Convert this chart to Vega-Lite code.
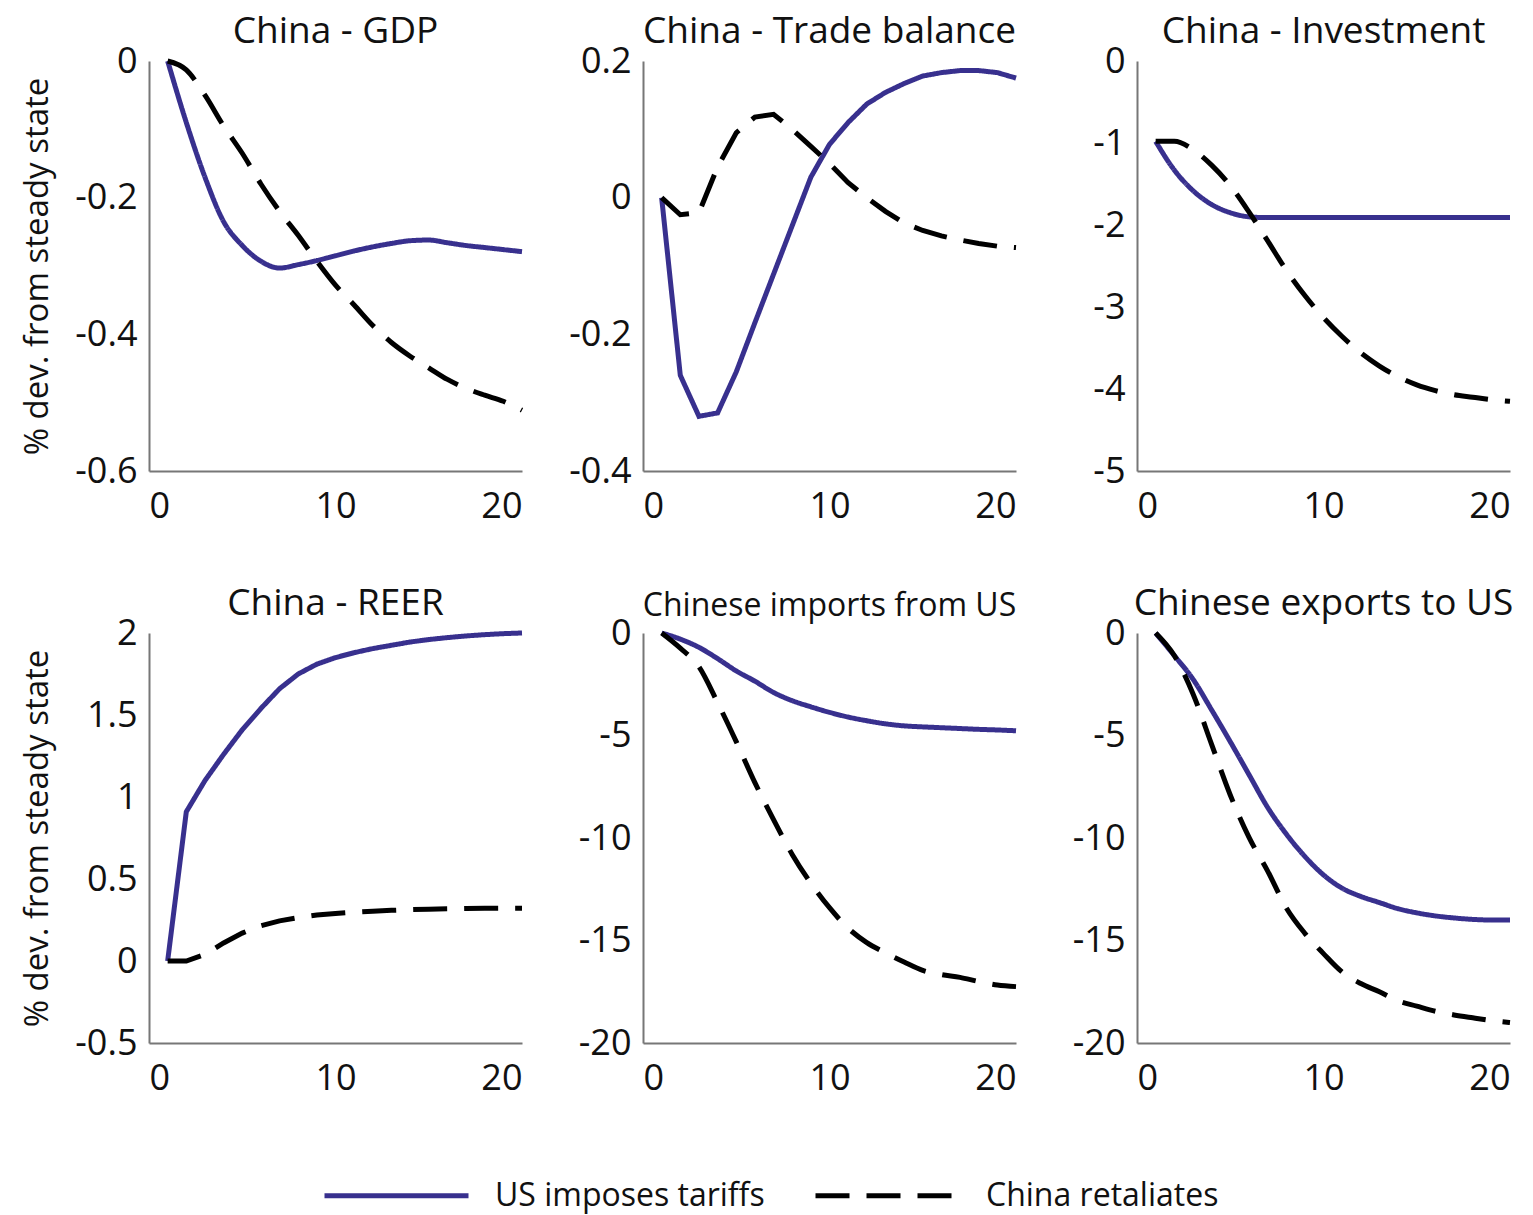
{
  "$schema": "https://vega.github.io/schema/vega-lite/v6.json",
  "autosize": {"type": "pad"},
  "padding": {"left": 21, "top": 13, "right": 0, "bottom": 5},
  "background": "white",
  "bounds": "flush",
  "columns": 3,
  "spacing": {"column": 121, "row": 162},
  "config": {
    "font": "Open Sans",
    "view": {"stroke": null},
    "title": {"font": "Open Sans", "fontSize": 37, "fontWeight": "normal", "color": "#111", "offset": -8},
    "axis": {
      "grid": false, "ticks": false, "tickSize": 0,
      "domainColor": "#777", "domainWidth": 2,
      "labelFont": "Open Sans", "labelFontSize": 36, "labelColor": "#111",
      "titleFont": "Open Sans", "titleFontSize": 33, "titleFontWeight": "normal", "titleColor": "#111"
    },
    "axisX": {"labelPadding": 18},
    "axisY": {"labelPadding": 12, "titlePadding": 20},
    "legend": {"layout": {"bottom": {"anchor": "middle"}}}
  },
  "data": {"values": [
    {"panel":"GDP","t":1,"US imposes tariffs":0,"China retaliates":0},
    {"panel":"GDP","t":2,"US imposes tariffs":-0.09,"China retaliates":-0.013},
    {"panel":"GDP","t":3,"US imposes tariffs":-0.17,"China retaliates":-0.05},
    {"panel":"GDP","t":4,"US imposes tariffs":-0.235,"China retaliates":-0.095},
    {"panel":"GDP","t":5,"US imposes tariffs":-0.27,"China retaliates":-0.135},
    {"panel":"GDP","t":6,"US imposes tariffs":-0.293,"China retaliates":-0.18},
    {"panel":"GDP","t":7,"US imposes tariffs":-0.303,"China retaliates":-0.22},
    {"panel":"GDP","t":8,"US imposes tariffs":-0.298,"China retaliates":-0.255},
    {"panel":"GDP","t":9,"US imposes tariffs":-0.292,"China retaliates":-0.293},
    {"panel":"GDP","t":10,"US imposes tariffs":-0.285,"China retaliates":-0.328},
    {"panel":"GDP","t":11,"US imposes tariffs":-0.278,"China retaliates":-0.357},
    {"panel":"GDP","t":12,"US imposes tariffs":-0.272,"China retaliates":-0.387},
    {"panel":"GDP","t":13,"US imposes tariffs":-0.267,"China retaliates":-0.412},
    {"panel":"GDP","t":14,"US imposes tariffs":-0.263,"China retaliates":-0.432},
    {"panel":"GDP","t":15,"US imposes tariffs":-0.262,"China retaliates":-0.449},
    {"panel":"GDP","t":16,"US imposes tariffs":-0.266,"China retaliates":-0.466},
    {"panel":"GDP","t":17,"US imposes tariffs":-0.27,"China retaliates":-0.479},
    {"panel":"GDP","t":18,"US imposes tariffs":-0.273,"China retaliates":-0.489},
    {"panel":"GDP","t":19,"US imposes tariffs":-0.276,"China retaliates":-0.498},
    {"panel":"GDP","t":20,"US imposes tariffs":-0.279,"China retaliates":-0.511},

    {"panel":"TB","t":1,"US imposes tariffs":0,"China retaliates":0},
    {"panel":"TB","t":2,"US imposes tariffs":-0.26,"China retaliates":-0.025},
    {"panel":"TB","t":3,"US imposes tariffs":-0.32,"China retaliates":-0.022},
    {"panel":"TB","t":4,"US imposes tariffs":-0.315,"China retaliates":0.045},
    {"panel":"TB","t":5,"US imposes tariffs":-0.255,"China retaliates":0.095},
    {"panel":"TB","t":6,"US imposes tariffs":-0.183,"China retaliates":0.118},
    {"panel":"TB","t":7,"US imposes tariffs":-0.112,"China retaliates":0.122},
    {"panel":"TB","t":8,"US imposes tariffs":-0.041,"China retaliates":0.1},
    {"panel":"TB","t":9,"US imposes tariffs":0.03,"China retaliates":0.075},
    {"panel":"TB","t":10,"US imposes tariffs":0.078,"China retaliates":0.05},
    {"panel":"TB","t":11,"US imposes tariffs":0.11,"China retaliates":0.022},
    {"panel":"TB","t":12,"US imposes tariffs":0.137,"China retaliates":0.0},
    {"panel":"TB","t":13,"US imposes tariffs":0.154,"China retaliates":-0.02},
    {"panel":"TB","t":14,"US imposes tariffs":0.167,"China retaliates":-0.037},
    {"panel":"TB","t":15,"US imposes tariffs":0.178,"China retaliates":-0.048},
    {"panel":"TB","t":16,"US imposes tariffs":0.183,"China retaliates":-0.056},
    {"panel":"TB","t":17,"US imposes tariffs":0.186,"China retaliates":-0.062},
    {"panel":"TB","t":18,"US imposes tariffs":0.186,"China retaliates":-0.067},
    {"panel":"TB","t":19,"US imposes tariffs":0.183,"China retaliates":-0.071},
    {"panel":"TB","t":20,"US imposes tariffs":0.175,"China retaliates":-0.073},

    {"panel":"INV","t":1,"US imposes tariffs":-0.98,"China retaliates":-0.98},
    {"panel":"INV","t":2,"US imposes tariffs":-1.33,"China retaliates":-0.98},
    {"panel":"INV","t":3,"US imposes tariffs":-1.58,"China retaliates":-1.08},
    {"panel":"INV","t":4,"US imposes tariffs":-1.75,"China retaliates":-1.27},
    {"panel":"INV","t":5,"US imposes tariffs":-1.85,"China retaliates":-1.52},
    {"panel":"INV","t":6,"US imposes tariffs":-1.9,"China retaliates":-1.84},
    {"panel":"INV","t":7,"US imposes tariffs":-1.91,"China retaliates":-2.19},
    {"panel":"INV","t":8,"US imposes tariffs":-1.91,"China retaliates":-2.55},
    {"panel":"INV","t":9,"US imposes tariffs":-1.91,"China retaliates":-2.86},
    {"panel":"INV","t":10,"US imposes tariffs":-1.91,"China retaliates":-3.13},
    {"panel":"INV","t":11,"US imposes tariffs":-1.91,"China retaliates":-3.36},
    {"panel":"INV","t":12,"US imposes tariffs":-1.91,"China retaliates":-3.56},
    {"panel":"INV","t":13,"US imposes tariffs":-1.91,"China retaliates":-3.72},
    {"panel":"INV","t":14,"US imposes tariffs":-1.91,"China retaliates":-3.85},
    {"panel":"INV","t":15,"US imposes tariffs":-1.91,"China retaliates":-3.95},
    {"panel":"INV","t":16,"US imposes tariffs":-1.91,"China retaliates":-4.02},
    {"panel":"INV","t":17,"US imposes tariffs":-1.91,"China retaliates":-4.07},
    {"panel":"INV","t":18,"US imposes tariffs":-1.91,"China retaliates":-4.1},
    {"panel":"INV","t":19,"US imposes tariffs":-1.91,"China retaliates":-4.13},
    {"panel":"INV","t":20,"US imposes tariffs":-1.91,"China retaliates":-4.15},

    {"panel":"REER","t":1,"US imposes tariffs":0,"China retaliates":0},
    {"panel":"REER","t":2,"US imposes tariffs":0.91,"China retaliates":0},
    {"panel":"REER","t":3,"US imposes tariffs":1.1,"China retaliates":0.04},
    {"panel":"REER","t":4,"US imposes tariffs":1.26,"China retaliates":0.11},
    {"panel":"REER","t":5,"US imposes tariffs":1.41,"China retaliates":0.17},
    {"panel":"REER","t":6,"US imposes tariffs":1.54,"China retaliates":0.215},
    {"panel":"REER","t":7,"US imposes tariffs":1.66,"China retaliates":0.245},
    {"panel":"REER","t":8,"US imposes tariffs":1.75,"China retaliates":0.265},
    {"panel":"REER","t":9,"US imposes tariffs":1.81,"China retaliates":0.28},
    {"panel":"REER","t":10,"US imposes tariffs":1.85,"China retaliates":0.29},
    {"panel":"REER","t":11,"US imposes tariffs":1.88,"China retaliates":0.298},
    {"panel":"REER","t":12,"US imposes tariffs":1.905,"China retaliates":0.304},
    {"panel":"REER","t":13,"US imposes tariffs":1.925,"China retaliates":0.309},
    {"panel":"REER","t":14,"US imposes tariffs":1.945,"China retaliates":0.313},
    {"panel":"REER","t":15,"US imposes tariffs":1.96,"China retaliates":0.316},
    {"panel":"REER","t":16,"US imposes tariffs":1.972,"China retaliates":0.318},
    {"panel":"REER","t":17,"US imposes tariffs":1.982,"China retaliates":0.32},
    {"panel":"REER","t":18,"US imposes tariffs":1.99,"China retaliates":0.321},
    {"panel":"REER","t":19,"US imposes tariffs":1.996,"China retaliates":0.322},
    {"panel":"REER","t":20,"US imposes tariffs":2.0,"China retaliates":0.322},

    {"panel":"IMP","t":1,"US imposes tariffs":0,"China retaliates":0},
    {"panel":"IMP","t":2,"US imposes tariffs":-0.3,"China retaliates":-0.74},
    {"panel":"IMP","t":3,"US imposes tariffs":-0.7,"China retaliates":-1.65},
    {"panel":"IMP","t":4,"US imposes tariffs":-1.25,"China retaliates":-3.4},
    {"panel":"IMP","t":5,"US imposes tariffs":-1.85,"China retaliates":-5.3},
    {"panel":"IMP","t":6,"US imposes tariffs":-2.35,"China retaliates":-7.3},
    {"panel":"IMP","t":7,"US imposes tariffs":-2.9,"China retaliates":-9.1},
    {"panel":"IMP","t":8,"US imposes tariffs":-3.3,"China retaliates":-10.8},
    {"panel":"IMP","t":9,"US imposes tariffs":-3.6,"China retaliates":-12.2},
    {"panel":"IMP","t":10,"US imposes tariffs":-3.87,"China retaliates":-13.4},
    {"panel":"IMP","t":11,"US imposes tariffs":-4.1,"China retaliates":-14.4},
    {"panel":"IMP","t":12,"US imposes tariffs":-4.28,"China retaliates":-15.1},
    {"panel":"IMP","t":13,"US imposes tariffs":-4.43,"China retaliates":-15.6},
    {"panel":"IMP","t":14,"US imposes tariffs":-4.53,"China retaliates":-16.05},
    {"panel":"IMP","t":15,"US imposes tariffs":-4.58,"China retaliates":-16.46},
    {"panel":"IMP","t":16,"US imposes tariffs":-4.62,"China retaliates":-16.66},
    {"panel":"IMP","t":17,"US imposes tariffs":-4.66,"China retaliates":-16.8},
    {"panel":"IMP","t":18,"US imposes tariffs":-4.7,"China retaliates":-17.0},
    {"panel":"IMP","t":19,"US imposes tariffs":-4.73,"China retaliates":-17.17},
    {"panel":"IMP","t":20,"US imposes tariffs":-4.77,"China retaliates":-17.25},

    {"panel":"EXP","t":1,"US imposes tariffs":0,"China retaliates":0},
    {"panel":"EXP","t":2,"US imposes tariffs":-1.1,"China retaliates":-1.1},
    {"panel":"EXP","t":3,"US imposes tariffs":-2.25,"China retaliates":-2.96},
    {"panel":"EXP","t":4,"US imposes tariffs":-3.75,"China retaliates":-5.43},
    {"panel":"EXP","t":5,"US imposes tariffs":-5.3,"China retaliates":-7.9},
    {"panel":"EXP","t":6,"US imposes tariffs":-6.9,"China retaliates":-9.96},
    {"panel":"EXP","t":7,"US imposes tariffs":-8.5,"China retaliates":-11.6},
    {"panel":"EXP","t":8,"US imposes tariffs":-9.8,"China retaliates":-13.4},
    {"panel":"EXP","t":9,"US imposes tariffs":-10.9,"China retaliates":-14.65},
    {"panel":"EXP","t":10,"US imposes tariffs":-11.8,"China retaliates":-15.64},
    {"panel":"EXP","t":11,"US imposes tariffs":-12.45,"China retaliates":-16.54},
    {"panel":"EXP","t":12,"US imposes tariffs":-12.85,"China retaliates":-17.1},
    {"panel":"EXP","t":13,"US imposes tariffs":-13.15,"China retaliates":-17.5},
    {"panel":"EXP","t":14,"US imposes tariffs":-13.45,"China retaliates":-17.94},
    {"panel":"EXP","t":15,"US imposes tariffs":-13.65,"China retaliates":-18.2},
    {"panel":"EXP","t":16,"US imposes tariffs":-13.8,"China retaliates":-18.45},
    {"panel":"EXP","t":17,"US imposes tariffs":-13.9,"China retaliates":-18.63},
    {"panel":"EXP","t":18,"US imposes tariffs":-13.97,"China retaliates":-18.77},
    {"panel":"EXP","t":19,"US imposes tariffs":-14.0,"China retaliates":-18.9},
    {"panel":"EXP","t":20,"US imposes tariffs":-14.0,"China retaliates":-19.0}
  ]},
  "concat": [
    {
      "title": "China - GDP", "width": 373, "height": 410,
      "transform": [{"filter": "datum.panel === 'GDP'"}, {"fold": ["US imposes tariffs", "China retaliates"], "as": ["series", "value"]}],
      "mark": {"type": "line", "strokeWidth": 5, "interpolate": "monotone"},
      "encoding": {
        "x": {"field": "t", "type": "quantitative", "scale": {"domain": [0, 20], "nice": false}, "axis": {"values": [0, 10, 20], "title": null, "labelExpr": "toString(datum.value)"}},
        "y": {"field": "value", "type": "quantitative", "scale": {"domain": [-0.6, 0], "nice": false, "zero": false}, "axis": {"values": [-0.6, -0.4, -0.2, 0], "title": "% dev. from steady state", "labelExpr": "toString(datum.value)"}},
        "color": {"field": "series", "type": "nominal", "scale": {"domain": ["US imposes tariffs", "China retaliates"], "range": ["#38308e", "#000000"]}, "legend": {"orient": "bottom", "offset": 25, "direction": "horizontal", "title": null, "symbolType": "stroke", "symbolSize": 20736, "symbolStrokeWidth": 5, "labelFontSize": 32, "labelFont": "Open Sans", "labelColor": "#111", "labelOffset": 24, "labelLimit": 600, "columnPadding": 40}},
        "strokeDash": {"field": "series", "type": "nominal", "scale": {"domain": ["US imposes tariffs", "China retaliates"], "range": [[1, 0], [34, 17]]}, "legend": {"orient": "bottom", "offset": 25, "direction": "horizontal", "title": null, "symbolType": "stroke", "symbolSize": 20736, "symbolStrokeWidth": 5, "labelFontSize": 32, "labelFont": "Open Sans", "labelColor": "#111", "labelOffset": 24, "labelLimit": 600, "columnPadding": 40}}
      }
    },
    {
      "title": "China - Trade balance", "width": 373, "height": 410,
      "transform": [{"filter": "datum.panel === 'TB'"}, {"fold": ["US imposes tariffs", "China retaliates"], "as": ["series", "value"]}],
      "mark": {"type": "line", "strokeWidth": 5},
      "encoding": {
        "x": {"field": "t", "type": "quantitative", "scale": {"domain": [0, 20], "nice": false}, "axis": {"values": [0, 10, 20], "title": null, "labelExpr": "toString(datum.value)"}},
        "y": {"field": "value", "type": "quantitative", "scale": {"domain": [-0.4, 0.2], "nice": false, "zero": false}, "axis": {"values": [-0.4, -0.2, 0, 0.2], "title": null, "labelExpr": "toString(datum.value)"}},
        "color": {"field": "series", "type": "nominal", "scale": {"domain": ["US imposes tariffs", "China retaliates"], "range": ["#38308e", "#000000"]}, "legend": {"orient": "bottom", "offset": 25, "direction": "horizontal", "title": null, "symbolType": "stroke", "symbolSize": 20736, "symbolStrokeWidth": 5, "labelFontSize": 32, "labelFont": "Open Sans", "labelColor": "#111", "labelOffset": 24, "labelLimit": 600, "columnPadding": 40}},
        "strokeDash": {"field": "series", "type": "nominal", "scale": {"domain": ["US imposes tariffs", "China retaliates"], "range": [[1, 0], [34, 17]]}, "legend": {"orient": "bottom", "offset": 25, "direction": "horizontal", "title": null, "symbolType": "stroke", "symbolSize": 20736, "symbolStrokeWidth": 5, "labelFontSize": 32, "labelFont": "Open Sans", "labelColor": "#111", "labelOffset": 24, "labelLimit": 600, "columnPadding": 40}}
      }
    },
    {
      "title": "China - Investment", "width": 373, "height": 410,
      "transform": [{"filter": "datum.panel === 'INV'"}, {"fold": ["US imposes tariffs", "China retaliates"], "as": ["series", "value"]}],
      "mark": {"type": "line", "strokeWidth": 5, "interpolate": "monotone"},
      "encoding": {
        "x": {"field": "t", "type": "quantitative", "scale": {"domain": [0, 20], "nice": false}, "axis": {"values": [0, 10, 20], "title": null, "labelExpr": "toString(datum.value)"}},
        "y": {"field": "value", "type": "quantitative", "scale": {"domain": [-5, 0], "nice": false, "zero": false}, "axis": {"values": [-5, -4, -3, -2, -1, 0], "title": null, "labelExpr": "toString(datum.value)"}},
        "color": {"field": "series", "type": "nominal", "scale": {"domain": ["US imposes tariffs", "China retaliates"], "range": ["#38308e", "#000000"]}, "legend": {"orient": "bottom", "offset": 25, "direction": "horizontal", "title": null, "symbolType": "stroke", "symbolSize": 20736, "symbolStrokeWidth": 5, "labelFontSize": 32, "labelFont": "Open Sans", "labelColor": "#111", "labelOffset": 24, "labelLimit": 600, "columnPadding": 40}},
        "strokeDash": {"field": "series", "type": "nominal", "scale": {"domain": ["US imposes tariffs", "China retaliates"], "range": [[1, 0], [34, 17]]}, "legend": {"orient": "bottom", "offset": 25, "direction": "horizontal", "title": null, "symbolType": "stroke", "symbolSize": 20736, "symbolStrokeWidth": 5, "labelFontSize": 32, "labelFont": "Open Sans", "labelColor": "#111", "labelOffset": 24, "labelLimit": 600, "columnPadding": 40}}
      }
    },
    {
      "title": "China - REER", "width": 373, "height": 410,
      "transform": [{"filter": "datum.panel === 'REER'"}, {"fold": ["US imposes tariffs", "China retaliates"], "as": ["series", "value"]}],
      "mark": {"type": "line", "strokeWidth": 5},
      "encoding": {
        "x": {"field": "t", "type": "quantitative", "scale": {"domain": [0, 20], "nice": false}, "axis": {"values": [0, 10, 20], "title": null, "labelExpr": "toString(datum.value)"}},
        "y": {"field": "value", "type": "quantitative", "scale": {"domain": [-0.5, 2], "nice": false, "zero": false}, "axis": {"values": [-0.5, 0, 0.5, 1, 1.5, 2], "title": "% dev. from steady state", "labelExpr": "toString(datum.value)"}},
        "color": {"field": "series", "type": "nominal", "scale": {"domain": ["US imposes tariffs", "China retaliates"], "range": ["#38308e", "#000000"]}, "legend": {"orient": "bottom", "offset": 25, "direction": "horizontal", "title": null, "symbolType": "stroke", "symbolSize": 20736, "symbolStrokeWidth": 5, "labelFontSize": 32, "labelFont": "Open Sans", "labelColor": "#111", "labelOffset": 24, "labelLimit": 600, "columnPadding": 40}},
        "strokeDash": {"field": "series", "type": "nominal", "scale": {"domain": ["US imposes tariffs", "China retaliates"], "range": [[1, 0], [34, 17]]}, "legend": {"orient": "bottom", "offset": 25, "direction": "horizontal", "title": null, "symbolType": "stroke", "symbolSize": 20736, "symbolStrokeWidth": 5, "labelFontSize": 32, "labelFont": "Open Sans", "labelColor": "#111", "labelOffset": 24, "labelLimit": 600, "columnPadding": 40}}
      }
    },
    {
      "title": {"text": "Chinese imports from US", "fontSize": 32},
      "width": 373, "height": 410,
      "transform": [{"filter": "datum.panel === 'IMP'"}, {"fold": ["US imposes tariffs", "China retaliates"], "as": ["series", "value"]}],
      "mark": {"type": "line", "strokeWidth": 5, "interpolate": "monotone"},
      "encoding": {
        "x": {"field": "t", "type": "quantitative", "scale": {"domain": [0, 20], "nice": false}, "axis": {"values": [0, 10, 20], "title": null, "labelExpr": "toString(datum.value)"}},
        "y": {"field": "value", "type": "quantitative", "scale": {"domain": [-20, 0], "nice": false, "zero": false}, "axis": {"values": [-20, -15, -10, -5, 0], "title": null, "labelExpr": "toString(datum.value)"}},
        "color": {"field": "series", "type": "nominal", "scale": {"domain": ["US imposes tariffs", "China retaliates"], "range": ["#38308e", "#000000"]}, "legend": {"orient": "bottom", "offset": 25, "direction": "horizontal", "title": null, "symbolType": "stroke", "symbolSize": 20736, "symbolStrokeWidth": 5, "labelFontSize": 32, "labelFont": "Open Sans", "labelColor": "#111", "labelOffset": 24, "labelLimit": 600, "columnPadding": 40}},
        "strokeDash": {"field": "series", "type": "nominal", "scale": {"domain": ["US imposes tariffs", "China retaliates"], "range": [[1, 0], [34, 17]]}, "legend": {"orient": "bottom", "offset": 25, "direction": "horizontal", "title": null, "symbolType": "stroke", "symbolSize": 20736, "symbolStrokeWidth": 5, "labelFontSize": 32, "labelFont": "Open Sans", "labelColor": "#111", "labelOffset": 24, "labelLimit": 600, "columnPadding": 40}}
      }
    },
    {
      "title": "Chinese exports to US", "width": 373, "height": 410,
      "transform": [{"filter": "datum.panel === 'EXP'"}, {"fold": ["US imposes tariffs", "China retaliates"], "as": ["series", "value"]}],
      "mark": {"type": "line", "strokeWidth": 5, "interpolate": "monotone"},
      "encoding": {
        "x": {"field": "t", "type": "quantitative", "scale": {"domain": [0, 20], "nice": false}, "axis": {"values": [0, 10, 20], "title": null, "labelExpr": "toString(datum.value)"}},
        "y": {"field": "value", "type": "quantitative", "scale": {"domain": [-20, 0], "nice": false, "zero": false}, "axis": {"values": [-20, -15, -10, -5, 0], "title": null, "labelExpr": "toString(datum.value)"}},
        "color": {"field": "series", "type": "nominal", "scale": {"domain": ["US imposes tariffs", "China retaliates"], "range": ["#38308e", "#000000"]}, "legend": {"orient": "bottom", "offset": 25, "direction": "horizontal", "title": null, "symbolType": "stroke", "symbolSize": 20736, "symbolStrokeWidth": 5, "labelFontSize": 32, "labelFont": "Open Sans", "labelColor": "#111", "labelOffset": 24, "labelLimit": 600, "columnPadding": 40}},
        "strokeDash": {"field": "series", "type": "nominal", "scale": {"domain": ["US imposes tariffs", "China retaliates"], "range": [[1, 0], [34, 17]]}, "legend": {"orient": "bottom", "offset": 25, "direction": "horizontal", "title": null, "symbolType": "stroke", "symbolSize": 20736, "symbolStrokeWidth": 5, "labelFontSize": 32, "labelFont": "Open Sans", "labelColor": "#111", "labelOffset": 24, "labelLimit": 600, "columnPadding": 40}}
      }
    }
  ]
}
